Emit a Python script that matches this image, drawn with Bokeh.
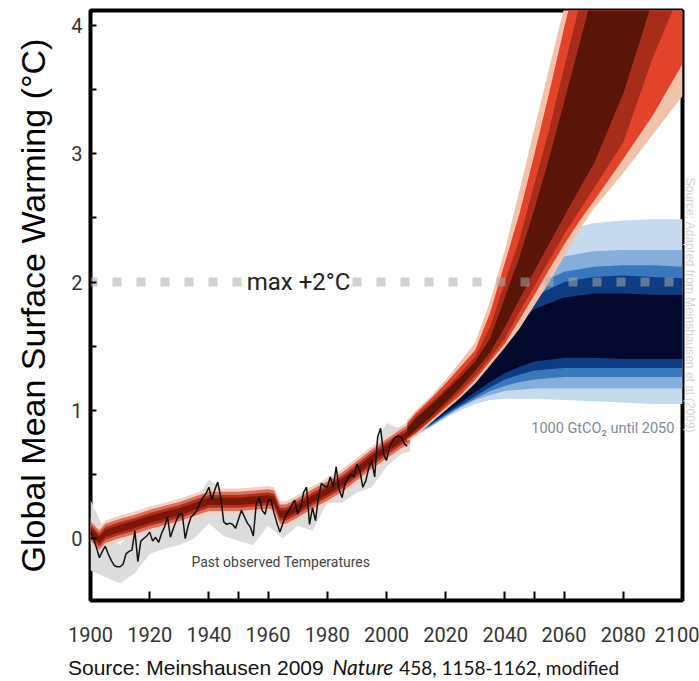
from bokeh.plotting import figure
from bokeh.models import FixedTicker, Label, Title, Div
from bokeh.layouts import column
from bokeh.embed import file_html
from bokeh.resources import INLINE
import numpy as np

# ---------------- data ----------------
x_tick_years = [1900, 1920, 1940, 1960, 1980, 2000, 2020, 2040, 2060, 2080, 2100]
x_minor_years = [1950, 2050]
y_ticks = [0, 1, 2, 3, 4]
y_minor = [0.5, 1.5, 2.5, 3.5]

obs_years = list(range(1900, 2008))
obs_vals = [0.05, 0.00, -0.07, -0.15, -0.10, -0.06, -0.12, -0.17, -0.21, -0.22,
            -0.22, -0.20, -0.12, -0.10, -0.09, 0.06, -0.18, -0.02, 0.00, 0.02,
            0.05, -0.02, 0.01, -0.03, 0.04, 0.09, 0.17, 0.01, 0.08, 0.14,
            0.19, 0.19, 0.00, 0.10, 0.17, 0.19, 0.22, 0.28, 0.32, 0.35,
            0.40, 0.30, 0.38, 0.44, 0.32, 0.13, 0.11, 0.12, 0.11, 0.08,
            0.15, 0.22, 0.17, 0.12, 0.09, 0.02, 0.27, 0.32, 0.22, 0.19,
            0.30, 0.30, 0.20, 0.12, 0.05, 0.12, 0.18, 0.22, 0.26, 0.30,
            0.19, 0.24, 0.36, 0.40, 0.11, 0.24, 0.14, 0.32, 0.43, 0.41,
            0.40, 0.48, 0.40, 0.56, 0.38, 0.32, 0.43, 0.47, 0.50, 0.48,
            0.58, 0.53, 0.40, 0.45, 0.55, 0.61, 0.48, 0.79, 0.86, 0.66,
            0.61, 0.71, 0.76, 0.79, 0.80, 0.79, 0.74, 0.72]

grey_years = [1900, 1905, 1910, 1915, 1920, 1925, 1930, 1935, 1940, 1945, 1950, 1955,
              1960, 1965, 1970, 1975, 1980, 1985, 1990, 1995, 2000, 2005, 2008]
grey_hi = [0.30, 0.05, -0.05, 0.08, 0.10, 0.16, 0.22, 0.28, 0.46, 0.38, 0.26, 0.30,
           0.36, 0.22, 0.32, 0.38, 0.48, 0.52, 0.62, 0.68, 0.90, 0.85, 0.80]
grey_lo = [-0.25, -0.30, -0.35, -0.27, -0.12, -0.08, -0.05, 0.00, 0.12, 0.02, -0.02, -0.05,
           0.10, 0.00, 0.10, 0.06, 0.28, 0.28, 0.36, 0.40, 0.56, 0.66, 0.68]

hist_years = [1900, 1902, 1903, 1905, 1910, 1915, 1920, 1925, 1930, 1935, 1940, 1945,
              1950, 1955, 1960, 1962, 1964, 1966, 1970, 1975, 1980, 1985, 1990, 1995,
              2000, 2005, 2008]
hist_mid = [0.06, 0.01, -0.01, 0.04, 0.08, 0.11, 0.15, 0.18, 0.21, 0.25, 0.29, 0.29,
            0.29, 0.30, 0.31, 0.30, 0.19, 0.19, 0.24, 0.31, 0.37, 0.44, 0.53, 0.62,
            0.70, 0.78, 0.82]

fan_years = [2007, 2010, 2015, 2020, 2025, 2030, 2035, 2040, 2045, 2050, 2055, 2060,
             2065, 2070, 2080, 2090, 2100]
red_pink_hi = [0.92, 1.00, 1.11, 1.24, 1.38, 1.53, 1.85, 2.25, 2.72, 3.20, 3.67, 4.14, 4.60, 5.10, 6.10, 7.10, 8.10]
red_orange_hi = [0.90, 0.98, 1.09, 1.21, 1.34, 1.47, 1.76, 2.15, 2.54, 3.00, 3.48, 3.98, 4.45, 4.95, 5.95, 6.95, 7.95]
red_dark_hi = [0.88, 0.96, 1.06, 1.17, 1.29, 1.42, 1.65, 2.00, 2.34, 2.77, 3.19, 3.67, 4.14, 4.60, 5.55, 6.50, 7.45]
red_maroon_hi = [0.86, 0.94, 1.04, 1.15, 1.26, 1.38, 1.56, 1.88, 2.20, 2.57, 2.97, 3.40, 3.84, 4.28, 5.20, 6.10, 7.00]
red_maroon_lo = [0.79, 0.85, 0.95, 1.06, 1.18, 1.31, 1.45, 1.65, 1.87, 2.09, 2.30, 2.51, 2.72, 2.92, 3.47, 4.20, 4.90]
red_dark_lo = [0.78, 0.83, 0.93, 1.04, 1.15, 1.27, 1.41, 1.56, 1.77, 1.97, 2.17, 2.37, 2.55, 2.73, 3.09, 3.75, 4.30]
red_orange_lo = [0.77, 0.82, 0.92, 1.02, 1.12, 1.24, 1.38, 1.52, 1.71, 1.90, 2.10, 2.29, 2.47, 2.63, 2.96, 3.30, 3.70]
red_pink_lo = [0.76, 0.80, 0.90, 1.00, 1.10, 1.21, 1.35, 1.49, 1.64, 1.82, 2.00, 2.20, 2.40, 2.57, 2.85, 3.15, 3.45]

blue_years = [2007, 2010, 2015, 2020, 2025, 2030, 2035, 2040, 2045, 2050, 2060, 2070, 2080, 2090, 2100]
blue_light_hi = [0.86, 0.92, 1.00, 1.10, 1.24, 1.42, 1.65, 1.88, 2.08, 2.24, 2.40, 2.46, 2.48, 2.49, 2.49]
blue_mid_hi = [0.85, 0.91, 0.99, 1.08, 1.21, 1.38, 1.58, 1.78, 1.96, 2.08, 2.20, 2.24, 2.25, 2.25, 2.25]
blue_steel_hi = [0.84, 0.90, 0.98, 1.07, 1.19, 1.34, 1.52, 1.70, 1.86, 1.97, 2.08, 2.12, 2.13, 2.13, 2.12]
blue_dark_hi = [0.83, 0.89, 0.97, 1.06, 1.17, 1.31, 1.47, 1.63, 1.78, 1.89, 2.00, 2.04, 2.05, 2.04, 2.03]
blue_navy_hi = [0.82, 0.88, 0.96, 1.05, 1.15, 1.28, 1.42, 1.56, 1.69, 1.79, 1.88, 1.91, 1.91, 1.90, 1.90]
blue_navy_lo = [0.80, 0.84, 0.90, 0.98, 1.06, 1.14, 1.22, 1.29, 1.34, 1.38, 1.41, 1.41, 1.40, 1.40, 1.40]
blue_dark_lo = [0.79, 0.83, 0.89, 0.97, 1.04, 1.11, 1.18, 1.24, 1.28, 1.31, 1.33, 1.33, 1.33, 1.33, 1.33]
blue_steel_lo = [0.78, 0.82, 0.88, 0.96, 1.03, 1.09, 1.15, 1.19, 1.22, 1.24, 1.26, 1.26, 1.26, 1.26, 1.26]
blue_mid_lo = [0.77, 0.81, 0.875, 0.95, 1.02, 1.08, 1.12, 1.15, 1.16, 1.17, 1.17, 1.17, 1.17, 1.17, 1.17]
blue_light_lo = [0.76, 0.80, 0.87, 0.94, 1.00, 1.05, 1.08, 1.09, 1.09, 1.09, 1.08, 1.07, 1.06, 1.05, 1.05]

limit_years = [1900, 2100]
limit_value = 2.0

# ---------------- main figure ----------------
p = figure(width=699, height=655, x_range=(1900, 2100), y_range=(-0.483, 4.117),
           output_backend="svg", toolbar_location=None, title=None,
           min_border_left=90, min_border_right=17, min_border_top=10, min_border_bottom=55)
p.xgrid.visible = False
p.ygrid.visible = False
p.outline_line_color = "black"
p.outline_line_width = 4
p.outline_line_alpha = 1.0
p.background_fill_color = "white"
p.border_fill_color = "white"

TICKFONT = "Roboto"

p.xaxis.ticker = FixedTicker(ticks=x_tick_years, minor_ticks=x_minor_years)
p.yaxis.ticker = FixedTicker(ticks=y_ticks, minor_ticks=y_minor)
for ax in (p.xaxis, p.yaxis):
    ax.axis_line_color = None
    ax.major_tick_out = 0
    ax.minor_tick_out = 0
    ax.major_tick_line_color = "black"
    ax.minor_tick_line_color = "black"
    ax.major_tick_line_width = 2
    ax.minor_tick_line_width = 2
    ax.major_label_text_font = TICKFONT
    ax.major_label_text_font_size = "20px"
    ax.major_label_text_color = "#333333"
p.xaxis.major_tick_in = 9
p.xaxis.minor_tick_in = 9
p.yaxis.major_tick_in = 6
p.yaxis.minor_tick_in = 6
p.xaxis.major_label_standoff = 26
p.yaxis.major_label_standoff = 8

p.yaxis.axis_label = "Global Mean Surface Warming (°C)"
p.yaxis.axis_label_text_font = "Liberation Sans"
p.yaxis.axis_label_text_font_style = "normal"
p.yaxis.axis_label_text_font_size = "34px"
p.yaxis.axis_label_text_color = "black"
p.yaxis.axis_label_standoff = 16

# faint vertical credit on the right edge
p.add_layout(Title(text="Source: Adapted from Meinshausen et al (2009)", text_font="Liberation Sans",
                   text_font_size="12px", text_font_style="normal", text_color="#d4d4d4",
                   align="center", offset=110, standoff=1), "right")

# grey observational uncertainty
p.varea(x=grey_years, y1=grey_lo, y2=grey_hi, color="#dcdcdc")

# blue scenario fan (behind red)
blue_layers = [(blue_light_lo, blue_light_hi, "#c6d9ef"),
               (blue_mid_lo, blue_mid_hi, "#86aedb"),
               (blue_steel_lo, blue_steel_hi, "#3a78bd"),
               (blue_dark_lo, blue_dark_hi, "#0d3c80"),
               (blue_navy_lo, blue_navy_hi, "#03092c")]
for lo, hi, c in blue_layers:
    p.varea(x=blue_years, y1=lo, y2=hi, color=c)

# historical model band (soft edged)
mid = np.array(hist_mid)
for half, c in [(0.10, "#f2d0c6"), (0.075, "#d8705b"), (0.05, "#b0301c"), (0.028, "#7e1509")]:
    p.varea(x=hist_years, y1=mid - half, y2=mid + half, color=c)

# red scenario fan
red_layers = [(red_pink_lo, red_pink_hi, "#f3c2ab"),
              (red_orange_lo, red_orange_hi, "#e3432b"),
              (red_dark_lo, red_dark_hi, "#a72c19"),
              (red_maroon_lo, red_maroon_hi, "#5a1408")]
for lo, hi, c in red_layers:
    p.varea(x=fan_years, y1=lo, y2=hi, color=c)

# observed temperatures
p.line(x=obs_years, y=obs_vals, color="#111111", line_width=1.5)

# +2 degC limit
p.line(x=limit_years, y=[limit_value, limit_value], color="#aaaaaa", alpha=0.55,
       line_width=9, line_dash="9 15", line_dash_offset=2, line_cap="butt")

p.add_layout(Label(x=1970.3, y=limit_value, text="max +2°C", text_font=TICKFONT,
                   text_font_size="24px", text_color="#222222", text_align="center",
                   text_baseline="middle", background_fill_color="white",
                   background_fill_alpha=1.0))

p.add_layout(Label(x=1934.1, y=-0.18, text="Past observed Temperatures", text_font=TICKFONT,
                   text_font_size="14px", text_color="#444444", text_align="left",
                   text_baseline="middle"))

p.add_layout(Label(x=2048.9, y=0.86, text="1000 GtCO\u2082 until 2050", text_font=TICKFONT,
                   text_font_size="14.5px", text_color="#7d8aa0", text_align="left",
                   text_baseline="middle"))

# ---------------- source line ----------------
src_html = ('<span style="font-family:\'Liberation Sans\';font-size:21px;">Source: Meinshausen 2009 </span>'
            '<span style="font-family:Lato;font-size:21px;font-style:italic;margin-left:3px;margin-right:6px;">Nature</span>'
            '<span style="font-family:Lato;font-size:19px;">458, 1158-1162, modified</span>')
src = Div(text=src_html, width=631, height=26, margin=(0, 0, 0, 68),
          styles={"white-space": "nowrap", "line-height": "24px", "color": "#111111"})

layout = column(p, src, spacing=0)
open("out.html", "w").write(file_html(layout, INLINE))
